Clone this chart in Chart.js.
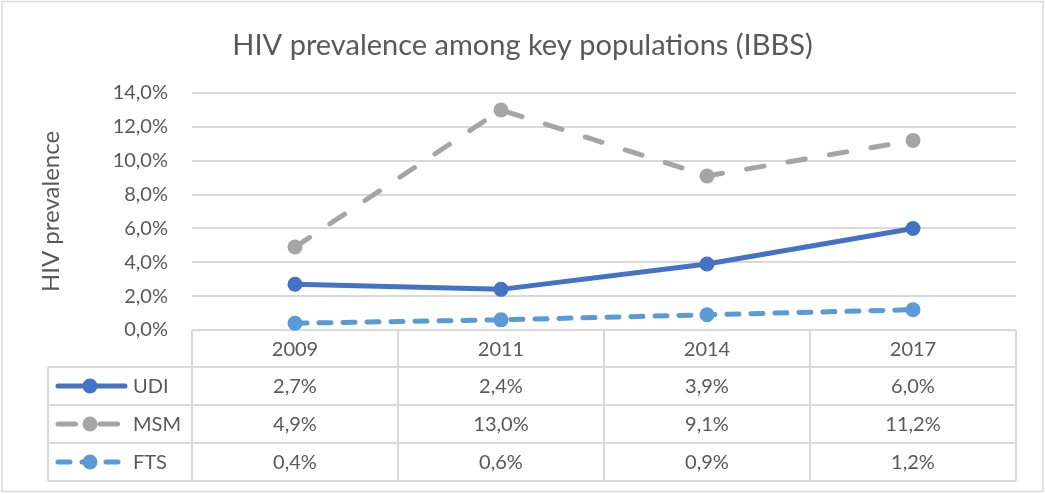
<!DOCTYPE html>
<html lang="en">
<head>
  <meta charset="UTF-8">
  <title>HIV prevalence among key populations (IBBS)</title>
  <script src="https://cdn.jsdelivr.net/npm/chart.js"></script>
  <style>
    html, body {
      margin: 0;
      padding: 0;
      background: #ffffff;
    }
    #wrap {
      width: 1045px;
      height: 494px;
      position: relative;
    }
  </style>
</head>
<body>
  <div id="wrap">
    <canvas id="hivChart" width="1045" height="494"></canvas>
  </div>

  <script>
    // Survey years and prevalence (percent) per key population
    const years = ["2009", "2011", "2014", "2017"];
    const udi = [2.7, 2.4, 3.9, 6.0];
    const msm = [4.9, 13.0, 9.1, 11.2];
    const fts = [0.4, 0.6, 0.9, 1.2];
    const seriesNames = ["UDI", "MSM", "FTS"];
    const yTicks = [0, 2, 4, 6, 8, 10, 12, 14];

    const textColor = "#595959";
    const lineGrey = "#d9d9d9";
    const fontFamily = "Lato, 'Open Sans', sans-serif";

    // Excel style number: 2.7 -> "2,7%"
    function pct(v) {
      return v.toFixed(1).replace(".", ",") + "%";
    }

    // Draws title, frame and the data table under the plot
    const tablePlugin = {
      id: "excelTable",
      beforeDatasetsDraw(chart) {
        const ctx = chart.ctx;
        const area = chart.chartArea;
        const x = chart.scales.x;
        const colW = (area.right - area.left) / years.length;
        const headerH = 37;
        const rowH = 38;
        const legendLeft = 48;
        const top = area.bottom;
        const rows = [top, top + headerH, top + headerH + rowH, top + headerH + 2 * rowH, top + headerH + 3 * rowH];

        ctx.save();
        ctx.strokeStyle = lineGrey;
        ctx.lineWidth = 2;

        // horizontal rules
        ctx.beginPath();
        ctx.moveTo(area.left, rows[0]);
        ctx.lineTo(area.right, rows[0]);
        for (let i = 1; i < rows.length; i++) {
          ctx.moveTo(legendLeft, rows[i]);
          ctx.lineTo(area.right, rows[i]);
        }
        // vertical rules
        ctx.moveTo(legendLeft, rows[1]);
        ctx.lineTo(legendLeft, rows[4]);
        for (let c = 0; c <= years.length; c++) {
          const cx = area.left + c * colW;
          ctx.moveTo(cx, rows[0]);
          ctx.lineTo(cx, rows[4]);
        }
        ctx.stroke();

        // header and values
        ctx.fillStyle = textColor;
        ctx.font = "20px " + fontFamily;
        ctx.textAlign = "center";
        ctx.textBaseline = "middle";
        years.forEach((yr, i) => {
          const cx = x.getPixelForValue(i);
          ctx.fillText(yr, cx, (rows[0] + rows[1]) / 2 + 1);
        });

        chart.data.datasets.forEach((ds, r) => {
          const cy = (rows[r + 1] + rows[r + 2]) / 2 + 1;
          ds.data.forEach((v, i) => {
            ctx.fillText(pct(v), x.getPixelForValue(i), cy);
          });

          // legend key
          ctx.save();
          ctx.strokeStyle = ds.borderColor;
          ctx.lineWidth = ds.borderWidth;
          ctx.lineCap = "round";
          ctx.setLineDash(ds.borderDash || []);
          ctx.beginPath();
          ctx.moveTo(58, cy - 1);
          ctx.lineTo(125, cy - 1);
          ctx.stroke();
          ctx.setLineDash([]);
          ctx.fillStyle = ds.pointBackgroundColor;
          ctx.beginPath();
          ctx.arc(90, cy - 1, ds.pointRadius, 0, Math.PI * 2);
          ctx.fill();
          ctx.restore();

          ctx.textAlign = "left";
          ctx.fillText(ds.label, 133, cy);
          ctx.textAlign = "center";
        });

        ctx.restore();
      },
      afterDraw(chart) {
        const ctx = chart.ctx;
        ctx.save();
        ctx.strokeStyle = lineGrey;
        ctx.lineWidth = 1.5;
        ctx.strokeRect(2, 1.5, chart.width - 4, chart.height - 4);
        ctx.fillStyle = textColor;
        ctx.font = "29px " + fontFamily;
        ctx.textAlign = "center";
        ctx.textBaseline = "middle";
        ctx.fillText("HIV prevalence among key populations (IBBS)", chart.width / 2, 46);
        ctx.restore();
      }
    };

    const lineStyle = {
      borderWidth: 5,
      pointRadius: 7.5,
      pointHoverRadius: 7.5,
      pointBorderWidth: 0,
      borderCapStyle: "round",
      borderJoinStyle: "round",
      tension: 0,
      fill: false,
      clip: false
    };

    new Chart(document.getElementById("hivChart"), {
      type: "line",
      data: {
        labels: years,
        datasets: [
          Object.assign({
            label: seriesNames[0],
            data: udi,
            borderColor: "#4472C4",
            pointBackgroundColor: "#4472C4"
          }, lineStyle),
          Object.assign({
            label: seriesNames[1],
            data: msm,
            borderColor: "#A5A5A5",
            pointBackgroundColor: "#A5A5A5",
            borderDash: [17.5, 24.5]
          }, lineStyle),
          Object.assign({
            label: seriesNames[2],
            data: fts,
            borderColor: "#5B9BD5",
            pointBackgroundColor: "#5B9BD5",
            borderDash: [12, 12]
          }, lineStyle)
        ]
      },
      options: {
        responsive: false,
        animation: false,
        devicePixelRatio: 1,
        layout: {
          padding: { left: 0, right: 29, top: 93, bottom: 164 }
        },
        plugins: {
          legend: { display: false },
          title: { display: false },
          tooltip: { enabled: false }
        },
        scales: {
          x: {
            type: "category",
            offset: true,
            display: false
          },
          y: {
            min: 0,
            max: 14,
            afterBuildTicks(scale) {
              scale.ticks = yTicks.map(v => ({ value: v }));
            },
            afterFit(scale) {
              scale.width = 192;
            },
            border: { display: false },
            grid: {
              color: lineGrey,
              lineWidth: 2,
              drawTicks: false
            },
            ticks: {
              padding: 24,
              color: textColor,
              font: { family: fontFamily, size: 20 },
              callback: v => pct(v)
            },
            title: {
              display: true,
              text: "HIV prevalence",
              color: textColor,
              font: { family: fontFamily, size: 24 },
              padding: { top: 37, bottom: 0 }
            }
          }
        }
      },
      plugins: [tablePlugin]
    });
  </script>
</body>
</html>
